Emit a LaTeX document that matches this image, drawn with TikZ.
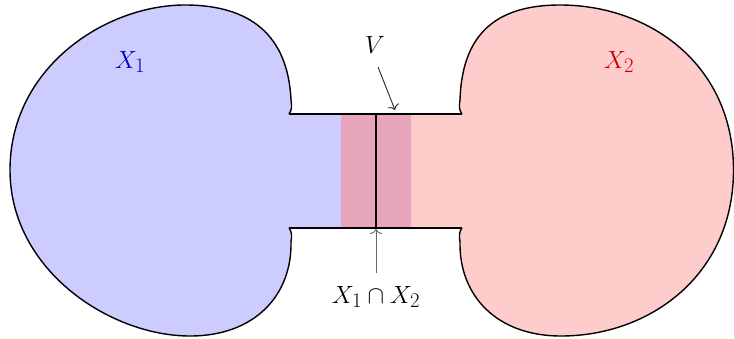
\documentclass[tikz,border=0pt]{standalone}
\usetikzlibrary{arrows.meta}
\definecolor{ovl}{RGB}{232,166,188}
\definecolor{xone}{RGB}{204,204,255}
\definecolor{xtwo}{RGB}{255,204,204}
\tikzset{
  outline/.style={line width=1.4pt, line join=round},
  lbl/.style={font=\fontsize{24.88}{30}\selectfont, inner sep=0pt},
  ptr/.style={line width=0.9pt, -{To[length=5pt,width=12pt]}},
}
\begin{document}
\begin{tikzpicture}[x=1pt,y=-1pt]
\useasboundingbox (0,0) rectangle (734,338);
% left blob path
\def\leftblob{(289,114) .. controls (292,110) and (292,106) .. (291,100)
  .. controls (288,35) and (250,5) .. (185,5)
  .. controls (105,5) and (10,68) .. (10,170)
  .. controls (10,270) and (110,336) .. (190,336)
  .. controls (255,336) and (292,295) .. (291,242)
  .. controls (292,236) and (292,232) .. (289,228)}
\def\rightblob{(462,114) .. controls (459,110) and (459,106) .. (460,100)
  .. controls (462,35) and (495,5) .. (560,5)
  .. controls (650,5) and (733.5,65) .. (733.5,170)
  .. controls (733.5,275) and (650,336) .. (561,336)
  .. controls (496,336) and (459,295) .. (460,242)
  .. controls (459,236) and (459,232) .. (462,228)}
% fills
\fill[xone] \leftblob -- (411,228) -- (411,114) -- cycle;
\fill[xtwo] \rightblob -- (341,228) -- (341,114) -- cycle;
\fill[ovl] (341,114) rectangle (411,228);
% outlines
\draw[outline] \leftblob;
\draw[outline] \rightblob;
\draw[outline] (289,114) -- (462,114);
\draw[outline] (289,228) -- (462,228);
\draw[outline] (376,114) -- (376,228);
% labels
\node[lbl, text=blue!80!black] (x1) at (130,62) {$X_1$};
\node[lbl, text=red!80!black] (x2) at (619,62) {$X_2$};
\node[lbl] (V) at (375,45) {$V$};
\node[lbl] (cap) at (376,297) {$X_1\cap X_2$};
\coordinate (vstart) at (378,67);
\coordinate (vtip) at (395,110);
\coordinate (cstart) at (376,273);
\coordinate (ctip) at (376,229);
\draw[ptr, black!85] (vstart) -- (vtip);
\draw[ptr, black!60] (cstart) -- (ctip);
\end{tikzpicture}
\end{document}
